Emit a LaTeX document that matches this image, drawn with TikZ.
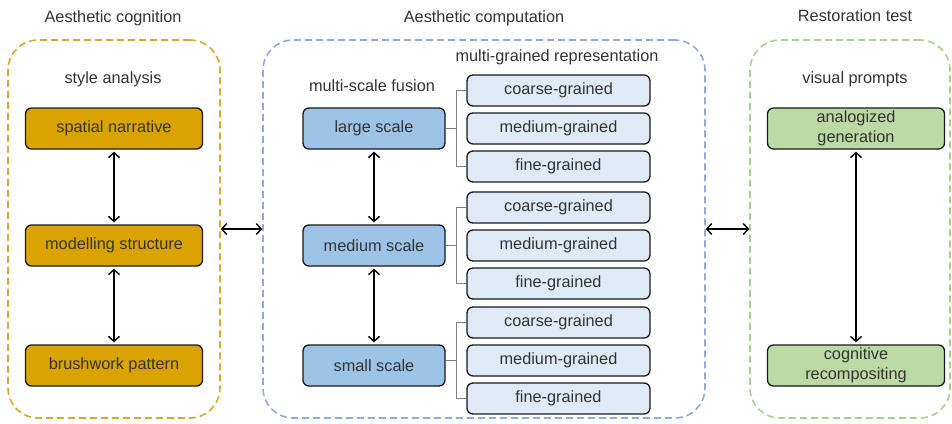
\documentclass[tikz,border=0pt]{standalone}
\usepackage{fontspec}
\setmainfont{Liberation Sans}
\usepackage{tikz}
\usetikzlibrary{arrows.meta, positioning}
\definecolor{goldfill}{HTML}{DAA300}
\definecolor{goldline}{HTML}{D6AA2C}
\definecolor{scalefill}{HTML}{9DC3E6}
\definecolor{grainfill}{HTML}{DEEBF7}
\definecolor{blueline}{HTML}{8FAADC}
\definecolor{greenfill}{HTML}{BBDAA4}
\definecolor{greenline}{HTML}{A9D18E}

\begin{document}
\begin{tikzpicture}[x=1pt, y=-1pt,
  every node/.style={font=\fontsize{16.3}{20}\selectfont, text=black!80},
  frame/.style={draw, line width=1.6pt, dash pattern=on 7pt off 4pt, rounded corners=30pt, minimum height=378pt, inner sep=0pt},
  block/.style={draw=black!90, line width=1.3pt, rounded corners=6pt, minimum height=41pt, inner sep=0pt, align=center},
  grain/.style={block, fill=grainfill, minimum width=183pt, minimum height=31pt},
  link/.style={{Straight Barb[length=5pt,width=11pt]}-{Straight Barb[length=5pt,width=11pt]}, line width=1.4pt, shorten >=2pt, shorten <=2pt},
  brace/.style={draw=gray, line width=0.8pt}]
  \useasboundingbox (0,0) rectangle (952,423);

  % the three stages
  \node[frame, draw=goldline, minimum width=212pt] (cog) at (114,229) {};
  \node[frame, draw=blueline, minimum width=442pt] (comp) at (484,229) {};
  \node[frame, draw=greenline, minimum width=200pt] (test) at (850,229) {};
  \node (cogtitle) at (113,18) {Aesthetic cognition};
  \node (comptitle) at (484,18) {Aesthetic computation};
  \node (testtitle) at (855,16) {Restoration test};
  \node (style) at (113,79) {style analysis};
  \node (fusion) at (372,86) {multi-scale fusion};
  \node (multi) at (557,57) {multi-grained representation};
  \node (prompts) at (855,79) {visual prompts};

  % aesthetic cognition
  \node[block, fill=goldfill, minimum width=177pt] (narr) at (114,128.5) {spatial narrative};
  \node[block, fill=goldfill, minimum width=177pt] (model) at (114,245.5) {modelling structure};
  \node[block, fill=goldfill, minimum width=177pt] (brush) at (114,365.5) {brushwork pattern};
  \draw[link] (narr) -- (model);
  \draw[link] (model) -- (brush);

  % aesthetic computation
  \foreach \n/\t/\y/\g in {large/large scale/128.5/128.5, medium/medium scale/245.5/245.5, small/small scale/365.5/360.5} {
    \node[block, fill=scalefill, minimum width=142pt] (\n) at (374,\y) {\t};
    \node[grain] (\n-c) at (558.5,\g-38) {coarse-grained};
    \node[grain] (\n-m) at (558.5,\g) {medium-grained};
    \node[grain] (\n-f) at (558.5,\g+38) {fine-grained};
    \draw[brace] (\n-c.west) -- ++(-10,0) coordinate (\n-top) |- (\n-f.west);
    \draw[brace] (\n.east |- \n-m.west) -- (\n-top |- \n-m.west);
  }
  \draw[link] (large) -- (medium);
  \draw[link] (medium) -- (small);

  % restoration test
  \node[block, fill=greenfill, minimum width=177pt] (analog) at (856,128.5) {analogized\\generation};
  \node[block, fill=greenfill, minimum width=177pt] (recomp) at (856,365.5) {cognitive\\recompositing};
  \draw[link] (analog) -- (recomp);

  \draw[link, shorten >=0pt, shorten <=0pt] (cog) -- (comp);
  \draw[link, shorten >=0pt, shorten <=0pt] (comp) -- (test);
\end{tikzpicture}
\end{document}
